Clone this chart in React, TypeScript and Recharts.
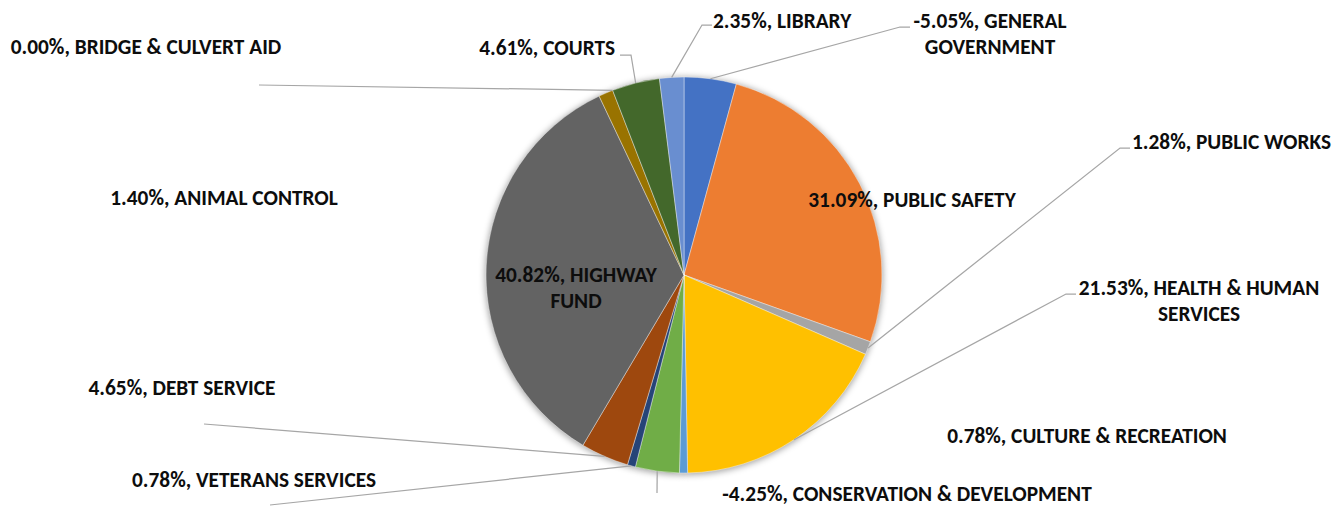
import { Cell, Pie, PieChart } from "recharts"

const departments = [
  "GENERAL GOVERNMENT",
  "PUBLIC SAFETY",
  "PUBLIC WORKS",
  "HEALTH & HUMAN SERVICES",
  "CULTURE & RECREATION",
  "CONSERVATION & DEVELOPMENT",
  "VETERANS SERVICES",
  "DEBT SERVICE",
  "HIGHWAY FUND",
  "ANIMAL CONTROL",
  "BRIDGE & CULVERT AID",
  "COURTS",
  "LIBRARY",
]

// percent change per department (Excel sizes slices by absolute value)
const changes = [-5.05, 31.09, 1.28, 21.53, 0.78, -4.25, 0.78, 4.65, 40.82, 1.4, 0.0, 4.61, 2.35]

const colors = [
  "#4472C4",
  "#ED7D31",
  "#A5A5A5",
  "#FFC000",
  "#5B9BD5",
  "#70AD47",
  "#264478",
  "#9E480E",
  "#636363",
  "#997300",
  "#255E91",
  "#43682B",
  "#698ED0",
]

type Spot = {
  x: number
  y: number
  anchor: "start" | "middle" | "end"
  wrap?: number
  leader?: [number, number][]
}

// where Excel placed each data label (labels were dragged by hand)
const labelSpots: Spot[] = [
  { x: 990, y: 21, anchor: "middle", wrap: 16, leader: [[900, 27], [910, 27]] },
  { x: 912, y: 200, anchor: "middle" },
  { x: 1132, y: 142, anchor: "start", leader: [[1120, 148], [1130, 148]] },
  { x: 1199, y: 288, anchor: "middle", wrap: 22, leader: [[1066, 294], [1076, 294]] },
  { x: 1087, y: 436, anchor: "middle" },
  { x: 907, y: 494, anchor: "middle", leader: [[657, 493]] },
  { x: 254, y: 480, anchor: "middle", leader: [[270, 505]] },
  { x: 182, y: 388, anchor: "middle", leader: [[204, 424]] },
  { x: 576, y: 275, anchor: "middle", wrap: 15 },
  { x: 224, y: 198, anchor: "middle" },
  { x: 146, y: 47, anchor: "middle", leader: [[259, 85]] },
  { x: 615, y: 48, anchor: "end", leader: [[631, 55], [620, 55]] },
  { x: 713, y: 21, anchor: "start", leader: [[702, 25], [712, 25]] },
]

const data = departments.map((name, i) => ({
  name,
  change: changes[i],
  size: Math.abs(changes[i]),
}))

const RADIAN = Math.PI / 180
const FONT = "Carlito, Calibri, Lato, sans-serif"

function wrapText(text: string, max?: number) {
  if (!max) return [text]
  const lines: string[] = []
  let cur = ""
  text.split(" ").forEach((w) => {
    const next = cur ? cur + " " + w : w
    if (next.length > max && cur) {
      lines.push(cur)
      cur = w
    } else {
      cur = next
    }
  })
  if (cur) lines.push(cur)
  return lines
}

function renderLabel(props: any) {
  const { cx, cy, midAngle, outerRadius, index } = props
  const spot = labelSpots[index]
  const entry = data[index]
  const text = `${entry.change.toFixed(2)}%, ${entry.name}`
  const lines = wrapText(text, spot.wrap)

  const sx = cx + outerRadius * Math.cos(-midAngle * RADIAN)
  const sy = cy + outerRadius * Math.sin(-midAngle * RADIAN)
  const pts = spot.leader ? [[sx, sy], ...spot.leader] : null

  return (
    <g key={`label-${index}`}>
      {pts && (
        <polyline
          points={pts.map((p) => p.join(",")).join(" ")}
          fill="none"
          stroke="#A6A6A6"
          strokeWidth={1.25}
        />
      )}
      <text
        x={spot.x}
        y={spot.y}
        textAnchor={spot.anchor}
        fill="#0D0D0D"
        fontFamily={FONT}
        fontWeight={700}
        fontSize={21.33}
      >
        {lines.map((line, i) => (
          <tspan key={i} x={spot.x} y={spot.y + i * 25.5} dominantBaseline="central">
            {line}
          </tspan>
        ))}
      </text>
    </g>
  )
}

export default function App() {
  return (
    <div style={{ position: "absolute", left: 0, top: 0, width: 1344, height: 506, background: "#fff" }}>
      <PieChart width={1344} height={506} margin={{ top: 0, right: 0, bottom: 0, left: 0 }}>
        {/* soft shadow under the pie, like Excel's default style */}
        <Pie
          data={data}
          dataKey="size"
          cx={684}
          cy={276}
          outerRadius={199}
          startAngle={90}
          endAngle={-270}
          stroke="none"
          legendType="none"
          label={false}
          labelLine={false}
          isAnimationActive={false}
          style={{ filter: "blur(3px)" }}
        >
          {data.map((d) => (
            <Cell key={`s-${d.name}`} fill="rgba(0,0,0,0.35)" style={{ filter: "blur(3px)" }} />
          ))}
        </Pie>
        <Pie
          data={data}
          dataKey="size"
          nameKey="name"
          cx={684}
          cy={275}
          outerRadius={198}
          startAngle={90}
          endAngle={-270}
          stroke="#ffffff"
          strokeWidth={0.4}
          label={renderLabel}
          labelLine={false}
          isAnimationActive={false}
        >
          {data.map((d, i) => (
            <Cell key={d.name} fill={colors[i]} />
          ))}
        </Pie>
      </PieChart>
    </div>
  )
}
